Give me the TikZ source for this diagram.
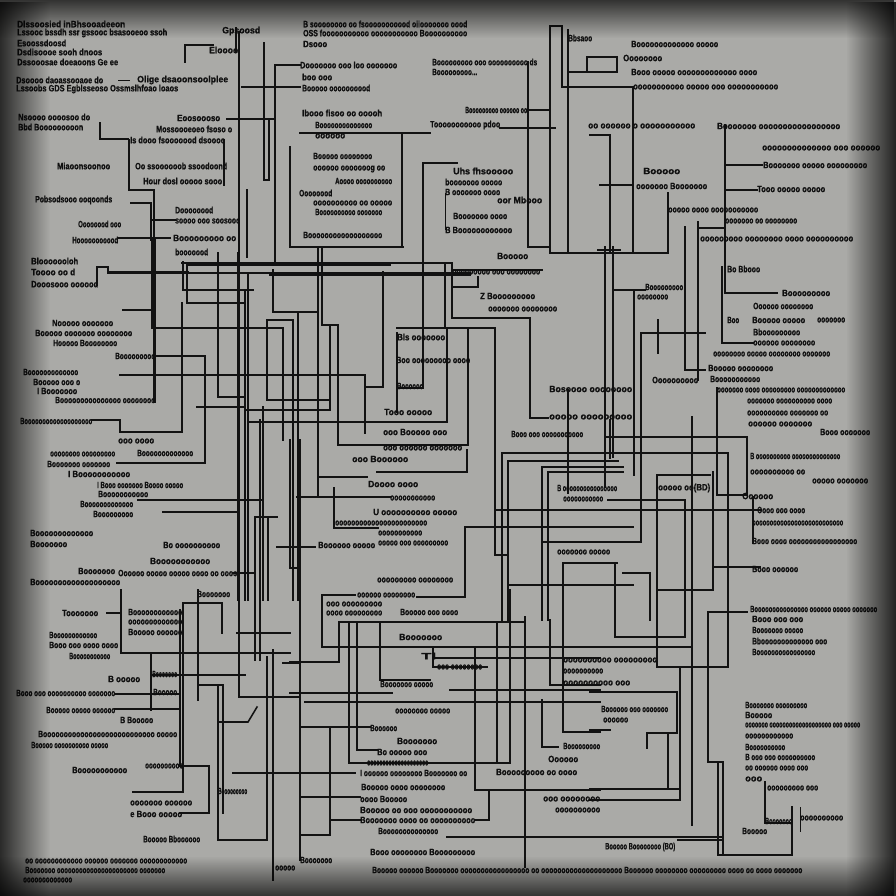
\documentclass[tikz,border=0pt]{standalone}
\usepackage{fontspec}
\usepackage{graphicx}
\newfontfamily\lblfont[FakeStretch=0.85,FakeBold=0.8]{Liberation Sans}
\usetikzlibrary{fadings}
\definecolor{bgc}{RGB}{170,170,167}
\definecolor{ink}{RGB}{16,16,16}
\definecolor{lnc}{RGB}{18,18,18}
\tikzset{
  lbl/.style={anchor=west,inner sep=0pt,text=ink,font=\lblfont\bfseries\fontsize{9.2}{10}\selectfont},
  ln/.style={draw=lnc,line width=1.55pt,line cap=rect},
  thin/.style={draw=lnc,line width=0.9pt}
}
\newcommand\lab[4]{\node[lbl] (l#1x#2) at (#1,#2) {\resizebox{#3pt}{\height}{#4}};}
\begin{document}
\begin{tikzpicture}[x=1pt,y=-1pt]
\useasboundingbox (0,0) rectangle (896,896);
\fill[bgc] (0,0) rectangle (896,896);
% ---------------- lines ----------------
% top-left cluster
\draw[ln] (185,62)--(185,45)--(213,45);
\draw[ln] (236,28)--(236,52);
\draw[ln] (239,32)--(239,697)--(300,697);
\draw[ln] (242,87)--(300,87);
\draw[ln] (275,65)--(300,65);
\draw[ln] (275,65)--(275,263);
\draw[ln] (264,43)--(264,180)--(269,180)--(269,119);
\draw[ln] (227,119)--(275,119);
\draw[ln] (224,140)--(224,185);
\draw[ln] (247,190)--(247,257);
\draw[ln] (290,147)--(290,247)--(403,247);
\draw[ln] (100,123)--(100,139)--(128,139);
\draw[ln] (129,140)--(129,190)--(154,190)--(154,402);
\draw[ln] (131,203)--(151,203)--(151,240);
\draw[ln] (152,220)--(175,220);
\draw[ln] (118,238)--(170,238);
\draw[ln] (97,285)--(97,267)--(108,267)--(108,272)--(188,272);
\draw[ln] (182,263)--(452,263);
\draw[ln] (188,265)--(390,265);
\draw[ln] (108,273)--(470,273);
\draw[ln] (270,275)--(470,275);
\draw[ln] (183,262)--(183,290)--(253,290);
\draw[ln] (187,263)--(187,303)--(245,303);
\draw[ln] (182,303)--(182,432)--(120,432)--(120,420)--(92,420);
\draw[ln] (218,253)--(218,397)--(243,397);
\draw[ln] (273,270)--(273,312)--(317,312);
\draw[ln] (267,320)--(267,400)--(330,400);
\draw[ln] (267,320)--(293,320)--(293,600);
\draw[ln] (298,313)--(298,600);
\draw[ln] (318,247)--(318,497);
\draw[ln] (322,247)--(322,325)--(338,325)--(338,445)--(383,445);
\draw[ln] (330,327)--(330,410)--(245,410);
\draw[ln] (300,133)--(430,133);
\draw[ln] (402,133)--(402,247);
\draw[ln] (423,163)--(457,163);
\draw[ln] (423,163)--(423,388)--(397,388);
\draw[thin] (445,193)--(445,230);
\draw[ln] (383,272)--(383,387)--(365,387);
\draw[ln] (452,270)--(542,270);
\draw[ln] (453,287)--(478,287)--(478,277);
\draw[ln] (445,263)--(445,328);
\draw[ln] (452,263)--(452,318)--(530,318)--(530,418)--(548,418);
\draw[ln] (397,328)--(495,328)--(495,555)--(508,555);
% top-right cluster
\draw[ln] (528,62)--(528,247)--(550,247);
\draw[ln] (550,253)--(550,26)--(562,26)--(562,87);
\draw[ln] (568,30)--(568,253);
\draw[ln] (562,87)--(633,87)--(633,253);
\draw[ln] (568,72)--(587,72);
\draw[ln] (587,57) rectangle (617,72);
\draw[ln] (550,253)--(668,253)--(668,193);
\draw[ln] (500,128)--(555,128);
\draw[ln] (527,110)--(550,110);
\draw[ln] (590,135)--(610,135)--(610,253);
\draw[ln] (600,185)--(633,185);
\draw[ln] (725,125)--(725,293)--(777,293);
\draw[ln] (725,165)--(762,165);
\draw[ln] (725,190)--(757,190);
\draw[ln] (698,228)--(725,228);
\draw[ln] (698,222)--(698,380);
\draw[ln] (685,227)--(685,370)--(705,370);
\draw[ln] (722,267)--(722,343)--(753,343);
\draw[ln] (605,247)--(605,487);
\draw[ln] (613,247)--(613,457);
\draw[ln] (598,250)--(620,250);
\draw[ln] (613,290)--(645,290);
% middle-left
\draw[ln] (152,240)--(152,328)--(283,328)--(283,440);
\draw[ln] (123,310)--(155,310);
\draw[ln] (155,240)--(155,402);
\draw[ln] (155,356)--(205,356)--(205,463)--(117,463);
\draw[ln] (120,375)--(365,375)--(365,433);
\draw[ln] (238,253)--(238,600);
\draw[ln] (245,290)--(245,600);
\draw[ln] (248,273)--(248,600);
\draw[ln] (197,407)--(245,407);
\draw[ln] (255,517)--(255,660);
\draw[ln] (260,420)--(260,660);
\draw[ln] (263,407)--(263,600);
\draw[ln] (268,517)--(268,600);
\draw[ln] (250,422)--(447,422)--(447,328);
\draw[ln] (138,500)--(263,500);
\draw[ln] (163,512)--(238,512);
\draw[ln] (255,517)--(277,517);
\draw[ln] (277,547)--(315,547);
\draw[ln] (290,440)--(290,568)--(300,568);
\draw[ln] (233,573)--(253,573);
% middle
\draw[ln] (397,333)--(397,412);
\draw[ln] (468,328)--(468,445)--(383,445);
\draw[ln] (467,450)--(467,472)--(377,472);
\draw[ln] (318,477)--(367,477);
\draw[ln] (297,497)--(390,497);
\draw[ln] (300,440)--(300,860);
\draw[ln] (334,488)--(334,528)--(378,528);
\draw[ln] (417,597)--(465,597)--(465,527)--(480,527);
\draw[ln] (480,527)--(633,527);
\draw[ln] (495,510)--(760,510);
\draw[ln] (502,620)--(502,453)--(728,453)--(728,620);
\draw[ln] (508,620)--(508,461)--(618,461);
\draw[ln] (542,620)--(542,467)--(623,467);
\draw[ln] (548,620)--(548,472)--(623,472);
\draw[ln] (568,390)--(568,493);
\draw[ln] (542,542)--(641,542)--(641,333)--(705,333);
\draw[ln] (508,585)--(633,585);
\draw[ln] (563,620)--(563,563)--(617,563);
\draw[ln] (615,563)--(615,620);
% right-middle
\draw[ln] (605,290)--(605,487);
\draw[ln] (610,420)--(610,458);
\draw[ln] (634,290)--(634,475);
\draw[ln] (605,437)--(747,437)--(747,495)--(717,495)--(717,388);
\draw[ln] (658,320)--(658,353);
\draw[ln] (692,417)--(692,825);
\draw[ln] (753,497)--(753,543);
\draw[ln] (710,475)--(657,475)--(657,667);
\draw[ln] (713,472)--(713,590)--(657,590);
\draw[ln] (713,567)--(760,567);
\draw[ln] (608,500)--(685,500)--(685,637);
\draw[ln] (623,573)--(650,573)--(650,620);
% bottom-left
\draw[ln] (121,590)--(121,653)--(290,653);
\draw[ln] (107,613)--(121,613);
\draw[ln] (133,792)--(183,792)--(183,603)--(222,603)--(222,633);
\draw[ln] (180,610)--(180,766)--(209,766)--(209,813)--(180,813);
\draw[ln] (151,653)--(151,710);
\draw[ln] (115,694)--(180,694);
\draw[ln] (115,709)--(180,709);
\draw[ln] (198,590)--(198,700);
\draw[ln] (198,685)--(223,685)--(223,813);
\draw[ln] (218,685)--(218,840)--(267,840)--(267,657);
\draw[ln] (237,633)--(290,633);
\draw[ln] (283,663)--(300,663);
\draw[ln] (273,650)--(273,880);
\draw[ln] (233,773)--(300,773);
\draw[ln] (220,722)--(248,722)--(257,707);
\draw[ln] (152,675)--(245,675);
% bottom-middle
\draw[ln] (355,595)--(322,595)--(322,647)--(600,647);
\draw[ln] (290,662)--(339,662)--(339,622)--(523,622);
\draw[ln] (349,622)--(349,763)--(510,763)--(510,590);
\draw[ln] (357,622)--(357,750)--(377,750);
\draw[ln] (380,623)--(380,680)--(430,680);
\draw[ln] (487,667)--(433,667)--(433,647);
\draw[ln] (435,658)--(600,658);
\draw[ln] (475,647)--(475,790)--(600,790);
\draw[ln] (497,622)--(497,763);
\draw[ln] (525,617)--(525,867);
\draw[ln] (290,693)--(392,693);
\draw[ln] (305,702)--(600,702);
\draw[ln] (450,690)--(600,690);
\draw[ln] (563,620)--(563,732)--(600,732);
\draw[ln] (550,620)--(550,685)--(600,685);
\draw[ln] (542,700)--(542,747)--(558,747);
\draw[ln] (302,727)--(370,727);
\draw[ln] (330,727)--(330,835)--(302,835);
\draw[ln] (300,773)--(355,773);
\draw[ln] (330,820)--(360,820);
\draw[ln] (302,797)--(360,797);
\draw[ln] (447,837)--(600,837);
\draw[ln] (475,820)--(489,820)--(489,790);
% bottom-right
\draw[ln] (747,612)--(708,612)--(708,762)--(723,762)--(723,855);
\draw[ln] (718,762)--(718,855)--(792,855)--(792,807);
\draw[ln] (657,620)--(657,667)--(728,667)--(728,620);
\draw[ln] (590,647)--(692,647);
\draw[ln] (685,590)--(685,637)--(615,637)--(615,620);
\draw[ln] (680,667)--(680,800)--(590,800);
\draw[ln] (590,692)--(677,692)--(677,733)--(647,733)--(647,748);
\draw[ln] (668,733)--(668,788);
\draw[ln] (590,789)--(680,789);
\draw[ln] (590,730)--(610,730);
\draw[ln] (590,837)--(723,837);
\draw[ln] (678,840)--(723,840);
\draw[ln] (765,782)--(765,823)--(792,823);
\draw[thin] (800,807)--(800,832);
\draw[thin] (118,80)--(130,80);
% ---------------- labels ----------------
% top-left
\lab{17}{24}{108}{Dlssoosied inBhsooadeeon}
\lab{17}{33}{150}{Lssooc bssdh ssr gssooc bsasooeoo ssoh}
\lab{17}{43}{49}{Esoossdoosd}
\lab{17}{52}{85}{Dsdisoooe sooh dnoos}
\lab{17}{62}{101}{Dssooosae doeaoons Ge ee}
\lab{16}{80}{87}{Dsoooo daoassooaoe do}
\lab{137}{80}{91}{Olige dsaoonsoolplee}
\lab{16}{89}{162}{Lssoobs GDS Egblsseoso Ossmslhfoao loaos}
\lab{222}{31}{38}{Gpsoosd}
\lab{209}{50}{29}{Eloooo}
\lab{18}{117}{72}{Nsoooo oooosoo do}
\lab{18}{127}{65}{Bbd Booooooooon}
\lab{177}{118}{43}{Eoosoooso}
\lab{156}{129}{76}{Mossoooeoeo fsoso o}
\lab{130}{140}{95}{Is dooo fsooooood dsoooo}
\lab{57}{166}{53}{Miaoonsoonoo}
\lab{135}{166}{92}{Oo ssoooooob ssoodoond}
\lab{143}{181}{79}{Hour dosl ooooo sooo}
\lab{35}{200}{77}{Pobsodsooo ooqoonds}
\lab{175}{210}{38}{Doooooood}
\lab{175}{221}{65}{soooo ooo soosooo}
\lab{78}{224}{43}{Oooooood ooo}
\lab{72}{240}{46}{Hooooooooood}
\lab{173}{238}{63}{Booooooooo oo}
\lab{175}{252}{33}{booooood}
\lab{31}{261}{47}{Blooooooloh}
\lab{31}{272}{44}{Toooo oo d}
\lab{31}{284}{67}{Dooosooo oooood}
% top-middle
\lab{303}{24}{164}{B soooooooo oo fsooooooooood oiiooooooo oood}
\lab{303}{33}{164}{OSS fooooooooooo ooooooooooo Boooooooooo}
\lab{303}{44}{24}{Dsooo}
\lab{300}{65}{97}{Dooooooo ooo loo ooooooo}
\lab{302}{77}{30}{boo ooo}
\lab{302}{88}{68}{Booooo oooooooood}
\lab{302}{113}{80}{Ibooo fisoo oo ooooh}
\lab{315}{125}{57}{Boooooooooooooo}
\lab{315}{136}{30}{oooooo}
\lab{432}{62}{105}{Booooooooo ooo oooooooooo ds}
\lab{432}{72}{45}{Booooooooo...}
\lab{465}{110}{62}{Booooooooo oooooo oo}
\lab{430}{125}{70}{Tooooooooooo pdoo}
\lab{313}{156}{59}{Booooo oooooooo}
\lab{313}{169}{72}{oooooo ooooooog oo}
\lab{335}{181}{57}{Aoooo oooooooooo}
\lab{299}{193}{33}{Oooooood}
\lab{313}{203}{79}{oooooooooo oo ooooo}
\lab{315}{212}{67}{Boooooooooo ooooooo}
\lab{303}{235}{79}{Boooooooooooooooooo}
\lab{453}{171}{60}{Uhs fhsooooo}
\lab{445}{182}{57}{booooooo ooooo}
\lab{445}{192}{55}{B ooooooo oooo}
\lab{497}{200}{45}{oor Mbooo}
\lab{453}{216}{54}{Booooooo oooo}
\lab{445}{230}{67}{B Boooooooooooo}
\lab{497}{256}{31}{Booooo}
\lab{452}{272}{88}{ooooooooo ooo oooooooo}
\lab{480}{296}{55}{Z Booooooooo}
\lab{488}{309}{69}{ooooooo oooooooo}
% top-right
\lab{568}{38}{24}{Bbsaoo}
\lab{631}{44}{87}{Booooooooooooo ooooo}
\lab{623}{58}{39}{Oooooooo}
\lab{631}{72}{126}{Booo ooooo ooooooooooooo oooo}
\lab{633}{87}{145}{ooooooooooo ooooo ooo ooooooooooo}
\lab{588}{126}{107}{oo oooooo o ooooooooooo}
\lab{717}{126}{123}{Booooooo ooooooooooooooooo}
\lab{762}{148}{118}{oooooooooooooo ooo oooooo}
\lab{763}{165}{104}{Booooooo ooooo ooooooooo}
\lab{757}{189}{68}{Tooo ooooo ooooo}
\lab{643}{171}{37}{Booooo}
\lab{636}{186}{71}{ooooooo Booooooo}
\lab{668}{210}{90}{ooooo oooo ooooooooooo}
\lab{725}{221}{72}{ooooooo oo oooooooo}
\lab{700}{239}{153}{ooooooooo oooooooo oooo oooooooooo}
\lab{727}{269}{33}{Bo Bbooo}
\lab{782}{293}{48}{Booooooooo}
\lab{645}{287}{38}{Booooooooo}
\lab{637}{297}{31}{oooooooo}
% middle-left
\lab{52}{323}{61}{Nooooo ooooooo}
\lab{35}{333}{97}{Booooo ooooooo oooooooo}
\lab{53}{343}{64}{Hooooo Boooooooo}
\lab{115}{356}{40}{Booooooooo}
\lab{23}{372}{55}{Booooooooooooo}
\lab{33}{382}{47}{Booooo ooo o}
\lab{37}{391}{40}{I Booooooo}
\lab{55}{400}{100}{Booooooooooooooo oooooooo}
\lab{20}{421}{72}{Booooooooooooooooooo}
\lab{118}{441}{36}{ooo oooo}
\lab{50}{454}{65}{oooooooo ooooooooo}
\lab{137}{453}{56}{Booooooooooooo}
\lab{47}{464}{63}{Booooooo ooooooo}
\lab{68}{474}{62}{I Booooooooooo}
\lab{97}{485}{86}{I Booo ooooooo Boooo ooooo}
\lab{98}{494}{50}{Booooooooooo}
\lab{80}{504}{53}{Booooooooooooo}
\lab{93}{514}{40}{Booooooooo}
\lab{30}{533}{63}{Booooooooooooo}
\lab{30}{544}{37}{Booooooo}
\lab{163}{545}{57}{Bo oooooooooo}
\lab{150}{561}{60}{Booooooooooo}
\lab{78}{571}{37}{Booooooo}
\lab{118}{573}{119}{Oooooo ooooo ooooo oooo oo oooo}
\lab{30}{582}{90}{Booooooooooooooooooo}
\lab{197}{594}{33}{Booooooo}
% middle
\lab{397}{337}{48}{Bls ooooooo}
\lab{396}{360}{74}{Boo ooooooooo oooo}
\lab{397}{386}{26}{Boooooo}
\lab{384}{412}{48}{Tooo ooooo}
\lab{383}{432}{64}{ooo Booooo ooo}
\lab{383}{448}{79}{ooo oooooo ooooooo}
\lab{352}{459}{56}{ooo Boooooo}
\lab{368}{484}{50}{Doooo oooo}
\lab{390}{498}{45}{ooooooooooo}
\lab{373}{512}{84}{U oooooooooo ooooo}
\lab{335}{523}{92}{ooooooooooooooooooooooo}
\lab{378}{533}{44}{ooooooooooo}
\lab{378}{543}{70}{ooooo ooo ooooooooo}
\lab{318}{545}{57}{Boooooo ooooo}
\lab{549}{389}{83}{Bosoooo oooooooo}
\lab{549}{417}{83}{ooooo ooooooooo}
\lab{511}{434}{72}{Booo ooo ooooooooooo}
\lab{557}{488}{60}{B oooooooooooooooo}
\lab{563}{499}{40}{ooooooooooo}
\lab{557}{552}{53}{ooooooo ooooo}
\lab{377}{580}{76}{ooooooooo oooooooo}
\lab{357}{595}{58}{oooooo oooooooo}
% right-middle
\lab{753}{306}{60}{Oooooo oooooooo}
\lab{727}{320}{12}{Boo}
\lab{752}{320}{53}{Booooo ooooo}
\lab{817}{320}{28}{ooooooo}
\lab{753}{332}{47}{Bbooooooooo}
\lab{753}{343}{62}{oooooo oooooooo}
\lab{713}{354}{117}{oooooooo ooooo oooooooo ooooooo}
\lab{708}{368}{65}{Booooo oooooooo}
\lab{710}{379}{50}{Booooooooooo}
\lab{652}{380}{46}{Oooooooooo}
\lab{717}{390}{128}{ooooooo oooo ooooooooo ooooooooooooo}
\lab{747}{401}{85}{ooooooo oooooooooo oooo}
\lab{747}{413}{81}{oooooooooo ooooooo oo}
\lab{748}{424}{64}{oooooo ooooooo}
\lab{820}{432}{50}{Booo ooooooo}
\lab{750}{456}{90}{B oooooooooo oooooooooooooo}
\lab{750}{472}{55}{oooooooooo oo}
\lab{812}{481}{56}{ooooo ooooooo}
\lab{742}{496}{31}{Oooooo}
\lab{757}{510}{48}{Oooo ooo oooo}
\lab{752}{523}{91}{oooooooooooooooooooooooooo}
\lab{752}{541}{105}{Booo oooo ooooooooooooooooo}
\lab{752}{569}{46}{Booo oooooo}
\lab{658}{488}{52}{ooooo oo(BD)}
% bottom-left
\lab{62}{613}{36}{Tooooooo}
\lab{128}{612}{54}{Boooooooooooo}
\lab{128}{622}{54}{ooooooooooooo}
\lab{128}{632}{54}{Booooo oooooo}
\lab{49}{635}{48}{Boooooooooooo}
\lab{49}{645}{69}{Booo ooo oooo oooo}
\lab{69}{656}{41}{Booooooooooo}
\lab{108}{679}{32}{B ooooo}
\lab{152}{674}{25}{Booooooo}
\lab{16}{693}{99}{Booo ooo oooooooooo ooooooo}
\lab{153}{692}{24}{Booooo}
\lab{46}{710}{69}{Booooo ooooo oooooo}
\lab{120}{720}{33}{B Booooo}
\lab{38}{734}{139}{Booooooooooooooooooooooooooo ooooo}
\lab{31}{745}{77}{Booooo oooooooooo ooooo}
\lab{72}{770}{55}{Booooooooooo}
\lab{145}{766}{38}{oooooooooo}
\lab{130}{803}{62}{ooooooo oooooo}
\lab{130}{814}{52}{e Booo ooooo}
\lab{143}{839}{57}{Booooo Bboooooo}
\lab{25}{861}{162}{oo oooooooooooo oooooo ooooooo oooooooooooo}
\lab{25}{870}{140}{Booooooo oooooooooooooooooooooo ooooooo}
\lab{23}{880}{49}{ooooooooooooo}
\lab{218}{791}{29}{Booooooooo}
\lab{275}{868}{20}{ooooo}
% bottom-middle
\lab{326}{604}{56}{ooo ooooooooo}
\lab{326}{613}{56}{oooo ooooooooo}
\lab{400}{612}{58}{Booooo ooo oooo}
\lab{399}{637}{43}{Booooooo}
\lab{421}{656}{15}{Tl}
\lab{437}{667}{45}{ooo oooooooo}
\lab{380}{684}{53}{Booooooo ooooo}
\lab{395}{711}{55}{oooooooo ooooo}
\lab{370}{728}{27}{Boooooo}
\lab{397}{741}{40}{Booooooo}
\lab{377}{752}{50}{Bo ooooo ooo}
\lab{367}{763}{61}{oooooooooooooooooooo}
\lab{360}{773}{107}{I oooooo oooooooo Booooooo oo}
\lab{361}{787}{84}{Booooo oooo oooooooo}
\lab{360}{799}{47}{oooo Booooo}
\lab{360}{810}{112}{Booooo oo ooo ooooooooooo}
\lab{360}{820}{115}{Booooooo oooo oo oooooooooo}
\lab{378}{831}{60}{Boooooooooooooo}
\lab{370}{852}{105}{Booo oooooooo Booooooooo}
\lab{372}{870}{430}{Booooo oooooo Booooooo ooooooooooooooooo oo oooooooooooooooooooo Boooooo oooooooo ooooooooo oooo oo oooo ooooooo}
\lab{300}{860}{32}{Booooooo}
\lab{496}{772}{81}{Booooooooo oo oooo}
\lab{543}{799}{57}{ooo oooooooo}
\lab{555}{810}{45}{oooooooooo}
\lab{563}{746}{37}{Booooooooo}
\lab{548}{759}{30}{Oooooo}
% bottom-right
\lab{563}{660}{94}{oooooooooo ooooooooo}
\lab{563}{671}{40}{oooooooooo}
\lab{563}{683}{67}{oooooooooo ooo}
\lab{601}{709}{67}{Boooooo ooo ooooooo}
\lab{603}{720}{25}{oooooo}
\lab{605}{847}{70}{Booooo Boooooooo (BO)}
\lab{750}{609}{127}{Booooooooooooooo oooooo ooooo ooooooo}
\lab{752}{619}{51}{Booo ooo ooo}
\lab{752}{630}{51}{Booooooo ooooo}
\lab{752}{641}{75}{Bbooooooooooooo ooo}
\lab{752}{652}{63}{Boooooooooooooooo}
\lab{745}{705}{62}{Booooooo ooooooooo}
\lab{745}{715}{27}{Booooo}
\lab{745}{725}{115}{ooooooo ooooooooooooooooooo ooo ooooo}
\lab{745}{736}{48}{oooooooooooo}
\lab{745}{747}{40}{Boooooooooo}
\lab{745}{757}{70}{B ooo ooo oooooooooo}
\lab{745}{768}{63}{oo oooooo oooo ooo}
\lab{745}{779}{17}{ooo}
\lab{767}{788}{51}{ooooooooo ooo}
\lab{765}{821}{27}{Booooooo}
\lab{742}{831}{25}{Booooo}
\lab{800}{818}{43}{oooooooooo}
% ---------------- vignette ----------------
\fill[black,opacity=0.75,path fading=east] (0,0) rectangle (50,896);
\fill[black,opacity=0.8,path fading=west] (846,0) rectangle (896,896);
\fill[black,opacity=0.7,path fading=south] (0,0) rectangle (896,38);
\fill[black,opacity=0.7,path fading=north] (0,856) rectangle (896,896);
\end{tikzpicture}
\end{document}
